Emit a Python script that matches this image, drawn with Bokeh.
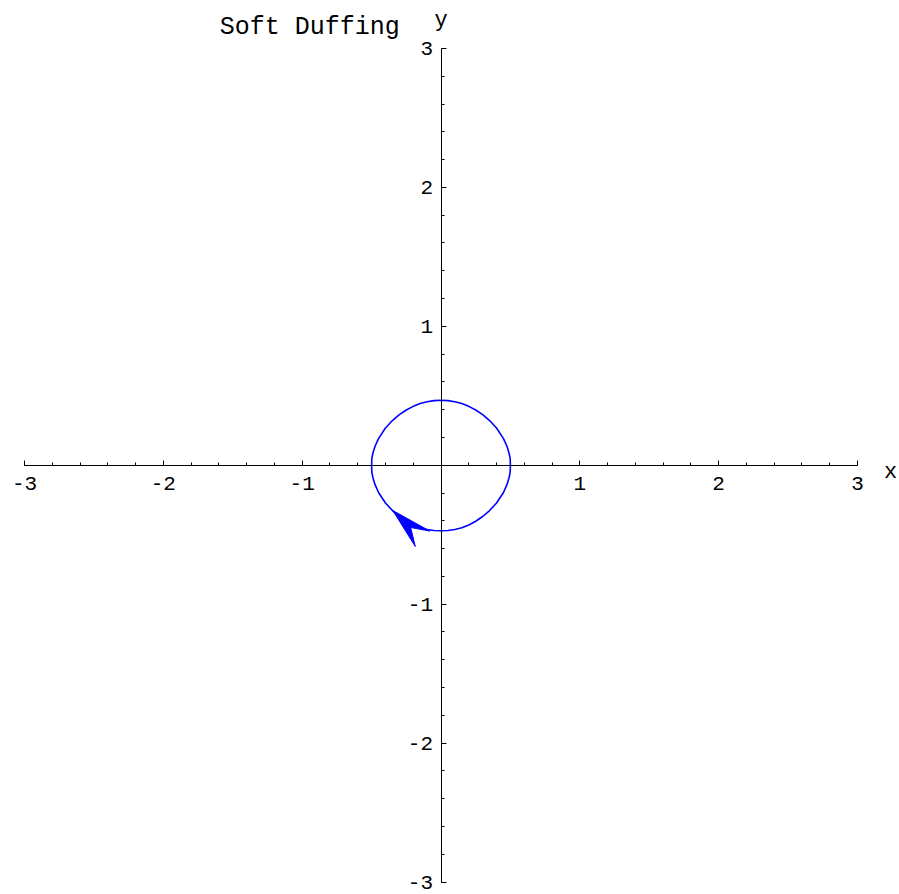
import math
import numpy as np
from bokeh.plotting import figure
from bokeh.models import Range1d, LinearAxis, FixedTicker, Label
from bokeh.embed import file_html
from bokeh.resources import INLINE

# Phase-plane orbit of the soft Duffing oscillator (x = position, y = velocity)
ORBIT_X = [-0.500, -0.498, -0.490, -0.475, -0.450, -0.400, -0.350, -0.300, -0.250,
           -0.200, -0.150, -0.100, -0.050, 0.000, 0.050, 0.100, 0.150, 0.200,
           0.250, 0.300, 0.350, 0.400, 0.450, 0.475, 0.490, 0.498, 0.500]
ORBIT_Y_UPPER = [0.000, 0.050, 0.088, 0.137, 0.192, 0.268, 0.322, 0.365, 0.398,
                 0.424, 0.444, 0.457, 0.465, 0.468, 0.465, 0.457, 0.444, 0.424,
                 0.398, 0.365, 0.322, 0.268, 0.192, 0.137, 0.088, 0.050, 0.000]
ORBIT_Y_LOWER = [-0.000, -0.052, -0.090, -0.140, -0.196, -0.272, -0.326, -0.369, -0.403,
                 -0.430, -0.450, -0.463, -0.470, -0.472, -0.470, -0.463, -0.450, -0.430,
                 -0.403, -0.369, -0.326, -0.272, -0.196, -0.140, -0.090, -0.052, -0.000]

# Direction-of-motion marker on the orbit
ARROW_TIP_X = -0.347
ARROW_TIP_Y = -0.326
ARROW_HEADING_DEG = 136.5

X_TICKS = [-3, -2, -1, 1, 2, 3]
Y_TICKS = [-3, -2, -1, 1, 2, 3]
MINOR_TICKS = [round(v, 1) for v in np.arange(-3.0, 3.01, 0.2)]
AXIS_SPAN = (-3, 3)

TITLE = "Soft Duffing"
FONT = "Liberation Mono"
BLUE = "#0000ff"

W, H = 899, 894
# plotting region: the axes span [-3, 3] inside a margin around the canvas
X_PAD_LO, X_PAD_HI = 24.0, 42.0
Y_PAD_HI, Y_PAD_LO = 48.0, 12.5
sx = (W - X_PAD_LO - X_PAD_HI) / 6.0
sy = (H - Y_PAD_HI - Y_PAD_LO) / 6.0

p = figure(width=W, height=H,
           x_range=Range1d(-3 - X_PAD_LO / sx, 3 + X_PAD_HI / sx),
           y_range=Range1d(-3 - Y_PAD_LO / sy, 3 + Y_PAD_HI / sy),
           x_axis_location=None, y_axis_location=None,
           toolbar_location=None, output_backend="svg",
           min_border=0)
p.grid.visible = False
p.outline_line_color = None
p.background_fill_color = "white"
p.border_fill_color = "white"


def crossing_axis(ticks, standoff):
    return LinearAxis(
        fixed_location=0,
        bounds=AXIS_SPAN,
        ticker=FixedTicker(ticks=ticks, minor_ticks=MINOR_TICKS),
        major_label_overrides={t: str(t) for t in ticks},
        major_tick_in=5, major_tick_out=0,
        minor_tick_in=3, minor_tick_out=0,
        axis_line_color="black", axis_line_width=1,
        major_tick_line_color="black", minor_tick_line_color="black",
        major_label_text_font=FONT, major_label_text_font_size="21px",
        major_label_text_color="black",
        major_label_standoff=standoff,
    )


p.add_layout(crossing_axis(X_TICKS, 12), "below")
p.add_layout(crossing_axis(Y_TICKS, 8), "left")

# orbit: upper branch left-to-right, lower branch right-to-left
xs = ORBIT_X + ORBIT_X[::-1]
ys = ORBIT_Y_UPPER + ORBIT_Y_LOWER[::-1]
p.line(xs, ys, line_color=BLUE, line_width=1.6)

# arrowhead built around the tip (head size in pixels, converted to data units)
head_len = 41.0 / sx
half_w = head_len * math.tan(math.radians(14.5))
notch = 0.6 * head_len
a = math.radians(ARROW_HEADING_DEG)
ux, uy = math.cos(a), math.sin(a)
nx, ny = -uy, ux
hx = [ARROW_TIP_X,
      ARROW_TIP_X - head_len * ux + half_w * nx,
      ARROW_TIP_X - notch * ux,
      ARROW_TIP_X - head_len * ux - half_w * nx]
hy = [ARROW_TIP_Y,
      ARROW_TIP_Y - head_len * uy + half_w * ny,
      ARROW_TIP_Y - notch * uy,
      ARROW_TIP_Y - head_len * uy - half_w * ny]
p.patch(hx, hy, fill_color=BLUE, line_color=BLUE, line_width=1)

p.add_layout(Label(x=-1.594, y=3.150, text=TITLE, text_font=FONT,
                   text_font_size="25px", text_color="black",
                   text_baseline="alphabetic", text_align="left"))
p.add_layout(Label(x=0.0, y=3.205, text="y", text_font=FONT,
                   text_font_size="22px", text_color="black",
                   text_baseline="alphabetic", text_align="center"))
p.add_layout(Label(x=3.19, y=-0.052, text="x", text_font=FONT,
                   text_font_size="22px", text_color="black",
                   text_baseline="alphabetic", text_align="left"))

open("out.html", "w").write(file_html(p, INLINE))
